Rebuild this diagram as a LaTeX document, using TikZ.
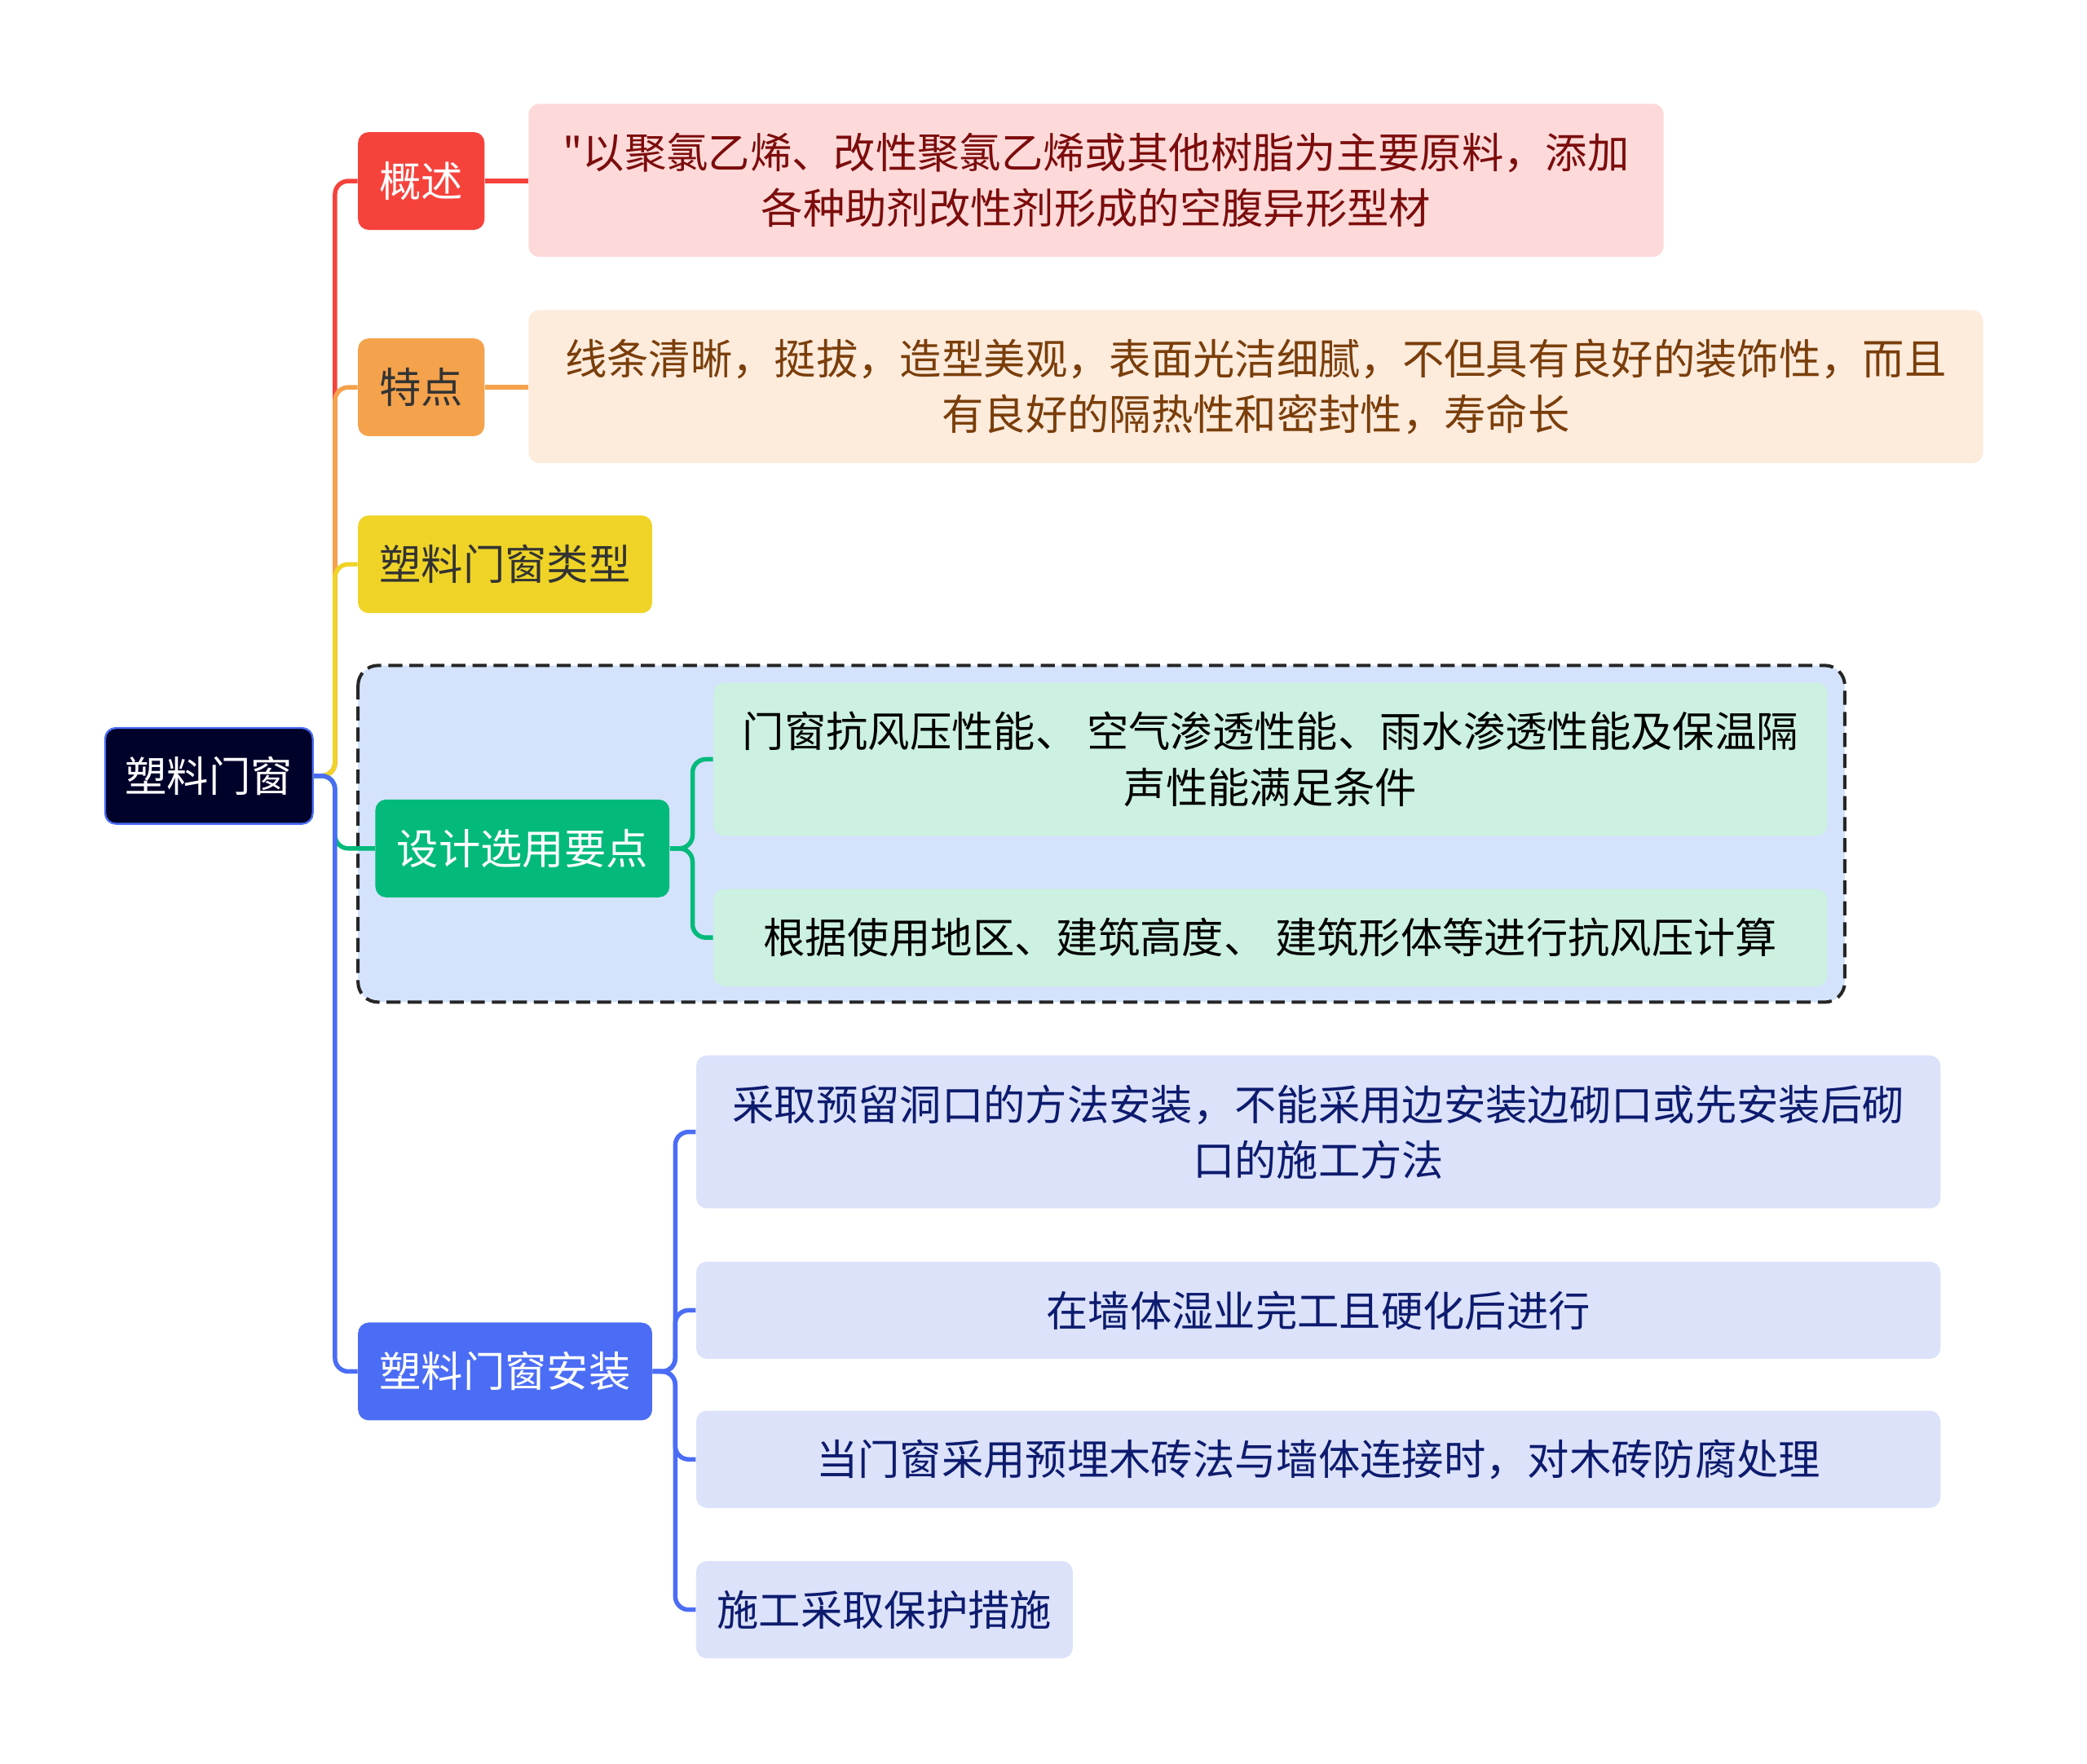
\documentclass[tikz,border=0pt]{standalone}
\usepackage{fontspec}
\setmainfont{Noto Sans CJK SC}[Ligatures=TeXOff]
\definecolor{raizfondo}{HTML}{01022A}
\definecolor{azul}{HTML}{4B6DF5}
\definecolor{rojo}{HTML}{F5433C}
\definecolor{naranja}{HTML}{F4A24C}
\definecolor{amarillo}{HTML}{EFD427}
\definecolor{verde}{HTML}{03BA7B}
\definecolor{rosa}{HTML}{FDDAD9}
\definecolor{rosatexto}{HTML}{7C0C0C}
\definecolor{melocoton}{HTML}{FDEBDC}
\definecolor{melotexto}{HTML}{7A3E0A}
\definecolor{grupo}{HTML}{D4E3FB}
\definecolor{menta}{HTML}{CCF1E1}
\definecolor{lavanda}{HTML}{DBE2FA}
\definecolor{lavtexto}{HTML}{0D1B6E}
\begin{document}
\begin{tikzpicture}[x=0.02cm, y=-0.02cm,
    every node/.style={font=\fontsize{17.9}{23.8}\selectfont, align=center, inner sep=0pt},
    tema/.style={rounded corners=0.16cm, minimum height=1.47cm},
    hoja/.style={rounded corners=0.16cm},
    rama/.style={line width=1.9pt, rounded corners=0.2cm}]
    \useasboundingbox[fill=white] (0,0) rectangle (1568,1325);
    % Grupo de diseño
    \draw[fill=grupo, draw=black!85, line width=1.4pt, dash pattern=on 6pt off 3pt,
        rounded corners=0.3cm] (269,500) rectangle (1386,753);
    % Raíz
    \node[tema, fill=raizfondo, draw=azul, line width=0.8pt, text=white,
        minimum width=3.12cm, minimum height=1.44cm] (raiz) at (157,583) {塑料门窗};
    % Primer nivel
    \node[tema, fill=rojo, text=white, minimum width=1.9cm] (gaishu) at (316.5,136) {概述};
    \node[tema, fill=naranja, text=black!80, minimum width=1.9cm] (tedian) at (316.5,291) {特点};
    \node[tema, fill=amarillo, text=black!80, minimum width=4.42cm] (leixing) at (379.5,424) {塑料门窗类型};
    \node[tema, fill=verde, text=white, minimum width=4.42cm] (sheji) at (392.5,637.5) {设计选用要点};
    \node[tema, fill=azul, text=white, minimum width=4.42cm] (anzhuang) at (379.5,1030.5) {塑料门窗安装};
    % Hojas
    \node[hoja, fill=rosa, text=rosatexto, minimum width=17.06cm, minimum height=2.3cm]
        (gaishuA) at (823.5,135.5) {"以聚氯乙烯、改性聚氯乙烯或其他树脂为主要原料，添加\\各种助剂改性剂形成的空腹异形型材};
    \node[hoja, fill=melocoton, text=melotexto, minimum width=21.86cm, minimum height=2.3cm]
        (tedianA) at (943.5,290.5) {线条清晰，挺拔，造型美观，表面光洁细腻，不但具有良好的装饰性，而且\\有良好的隔热性和密封性，寿命长};
    \node[hoja, fill=menta, text=black, minimum width=16.74cm, minimum height=2.3cm]
        (shejiA) at (954.5,570.5) {门窗抗风压性能、 空气渗透性能、雨水渗透性能及保温隔\\声性能满足条件};
    \node[hoja, fill=menta, text=black, minimum width=16.74cm, minimum height=1.46cm]
        (shejiB) at (954.5,704.5) {根据使用地区、建筑高度、 建筑形体等进行抗风压计算};
    \foreach \i/\xc/\yc/\w/\h/\txt in {
        1/990.5/850.5/18.7/2.3/{采取预留洞口的方法安装，不能采用边安装边砌口或先安装后砌\\口的施工方法},
        2/990.5/984.5/18.7/1.46/{在墙体湿业完工且硬化后进行},
        3/990.5/1096.5/18.7/1.46/{当门窗采用预埋木砖法与墙体连接时，对木砖防腐处理},
        4/664.5/1209.5/5.66/1.46/{施工采取保护措施}}{
        \node[hoja, fill=lavanda, text=lavtexto, minimum width=\w cm, minimum height=\h cm]
            (anz\i) at (\xc,\yc) {\txt};
    }
    % Ramas
    \draw[rama, rojo] (raiz.east) -- ++(16,0) |- (gaishu.west);
    \draw[rama, naranja] (raiz.east) -- ++(16,0) |- (tedian.west);
    \draw[rama, amarillo] (raiz.east) -- ++(16,0) |- (leixing.west);
    \draw[rama, verde] (raiz.east) -- ++(16,0) |- (sheji.west);
    \draw[rama, azul] (raiz.east) -- ++(16,0) |- (anzhuang.west);
    \draw[rama, rojo] (gaishu.east) -- (gaishuA.west |- gaishu.east);
    \draw[rama, naranja] (tedian.east) -- (tedianA.west |- tedian.east);
    \foreach \h in {shejiA, shejiB}
        \draw[rama, verde] (sheji.east) -- ++(17,0) |- (\h.west);
    \foreach \i in {1,...,4}
        \draw[rama, azul] (anzhuang.east) -- ++(17,0) |- (anz\i.west);
\end{tikzpicture}
\end{document}
